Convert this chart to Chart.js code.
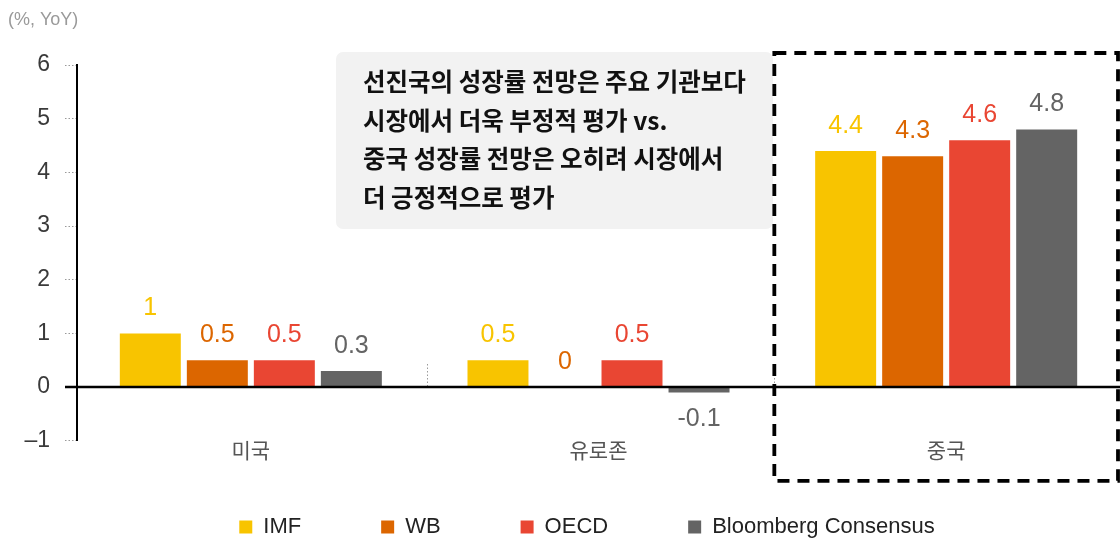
<!DOCTYPE html>
<html><head><meta charset="utf-8">
<script src="https://cdn.jsdelivr.net/npm/chart.js@4.4.1/dist/chart.umd.min.js"></script>
<style>html,body{margin:0;padding:0;background:#fff;} canvas{display:block;}</style>
</head><body>
<canvas id="c" width="1120" height="538"></canvas>
<script>
const categories = ['미국', '유로존', '중국'];
const seriesNames = ['IMF', 'WB', 'OECD', 'Bloomberg Consensus'];
const imfValues = [1, 0.5, 4.4];
const wbValues = [0.5, 0, 4.3];
const oecdValues = [0.5, 0.5, 4.6];
const bloombergValues = [0.3, -0.1, 4.8];
const yTicks = [-1, 0, 1, 2, 3, 4, 5, 6];
const unitLabel = '(%, YoY)';
const noteLines = [
  '선진국의 성장률 전망은 주요 기관보다',
  '시장에서 더욱 부정적 평가 vs.',
  '중국 성장률 전망은 오히려 시장에서',
  '더 긍정적으로 평가'
];
const colors = ['#F8C400', '#DC6600', '#E94633', '#646464'];
const FONT = "'Liberation Sans', 'Noto Sans CJK KR', sans-serif";
const KFONT = "'Noto Sans CJK KR', sans-serif";

const seriesValues = [imfValues, wbValues, oecdValues, bloombergValues];

const overlay = {
  id: 'overlay',
  afterLayout(chart) {
    const lg = chart.legend;
    if (lg) {
      const shift = 27;
      lg.left += shift; lg.right += shift;
      lg.top = chart.height - 102;
      lg.bottom = chart.height;
      lg.height = lg.bottom - lg.top;
    }
  },
  beforeDatasetsDraw(chart) {
    const ctx = chart.ctx;
    ctx.save();
    ctx.fillStyle = '#f2f2f2';
    ctx.beginPath();
    ctx.roundRect(336, 52, 437, 177, 7);
    ctx.fill();
    ctx.fillStyle = '#111';
    ctx.font = "bold 24.5px " + KFONT;
    ctx.textBaseline = 'middle';
    ctx.textAlign = 'left';
    noteLines.forEach((t, i) => ctx.fillText(t, 363, 82 + i * 38.5));
    ctx.fillStyle = '#9a9a9a';
    ctx.font = "18px " + FONT;
    ctx.fillText(unitLabel, 8, 20);
    ctx.restore();
  },
  afterDatasetsDraw(chart) {
    const ctx = chart.ctx;
    const xs = chart.scales.x, ys = chart.scales.y;
    const area = chart.chartArea;
    ctx.save();
    ctx.strokeStyle = '#9a9a9a';
    ctx.lineWidth = 1;
    ctx.setLineDash([1.5, 2]);
    for (let i = 0; i < categories.length - 1; i++) {
      const x = Math.round((xs.getPixelForValue(i) + xs.getPixelForValue(i + 1)) / 2 + 2) + 0.5;
      ctx.beginPath();
      ctx.moveTo(x, ys.getPixelForValue(0.43));
      ctx.lineTo(x, ys.getPixelForValue(0));
      ctx.stroke();
    }
    ctx.setLineDash([]);
    const y0 = ys.getPixelForValue(0);
    ctx.strokeStyle = '#000';
    ctx.lineWidth = 2.5;
    ctx.beginPath();
    ctx.moveTo(area.left - 12, y0);
    ctx.lineTo(area.right, y0);
    ctx.stroke();
    ctx.font = "25px " + FONT;
    ctx.textAlign = 'center';
    ctx.textBaseline = 'middle';
    chart.data.datasets.forEach((ds, di) => {
      const meta = chart.getDatasetMeta(di);
      meta.data.forEach((bar, i) => {
        const v = ds.data[i];
        const y = v >= 0 ? bar.y - 25 : bar.y + 27;
        ctx.fillStyle = ds.backgroundColor;
        ctx.fillText(String(v), bar.x, y);
      });
    });
    ctx.restore();
  },
  afterDraw(chart) {
    const ctx = chart.ctx;
    const xs = chart.scales.x, ys = chart.scales.y;
    const area = chart.chartArea;
    const n = categories.length;
    const left = (xs.getPixelForValue(n - 2) + xs.getPixelForValue(n - 1)) / 2 + 2;
    const right = area.right - 2;
    const top = ys.getPixelForValue(6) - 12;
    const bottom = ys.getPixelForValue(-1) + 40;
    ctx.save();
    ctx.strokeStyle = '#000';
    ctx.lineWidth = 3.8;
    ctx.setLineDash([12, 8]);
    ctx.strokeRect(left, top, right - left, bottom - top);
    ctx.restore();
  }
};

new Chart(document.getElementById('c'), {
  type: 'bar',
  data: {
    labels: categories,
    datasets: seriesNames.map((name, i) => ({
      label: name,
      data: seriesValues[i],
      backgroundColor: colors[i],
      borderWidth: 0,
      categoryPercentage: 0.771,
      barPercentage: 0.91
    }))
  },
  options: {
    responsive: false,
    animation: false,
    devicePixelRatio: 1,
    layout: { padding: { top: 65, left: 0, right: 0, bottom: 0 } },
    plugins: {
      tooltip: { enabled: false },
      title: { display: false },
      legend: {
        position: 'bottom',
        maxHeight: 74,
        labels: {
          boxWidth: 13,
          boxHeight: 13,
          padding: 80,
          color: '#222',
          font: { family: FONT, size: 22 }
        }
      }
    },
    scales: {
      x: {
        grid: { display: false, drawTicks: false },
        border: { display: false },
        ticks: { color: '#555', font: { family: FONT, size: 21 }, padding: -1 }
      },
      y: {
        min: yTicks[0],
        max: yTicks[yTicks.length - 1],
        afterBuildTicks(s) { s.ticks = yTicks.map(v => ({ value: v })); },
        afterFit(s) { s.width = 77; },
        border: { display: true, color: '#000', width: 2 },
        grid: {
          drawOnChartArea: false,
          drawTicks: true,
          tickLength: 12,
          tickColor: '#999',
          tickWidth: 1,
          tickBorderDash: [1.5, 2]
        },
        ticks: {
          color: '#3a3a3a',
          font: { family: FONT, size: 23 },
          padding: 15,
          callback: v => (v < 0 ? '–' + Math.abs(v) : String(v))
        }
      }
    }
  },
  plugins: [overlay]
});
</script>
</body></html>
